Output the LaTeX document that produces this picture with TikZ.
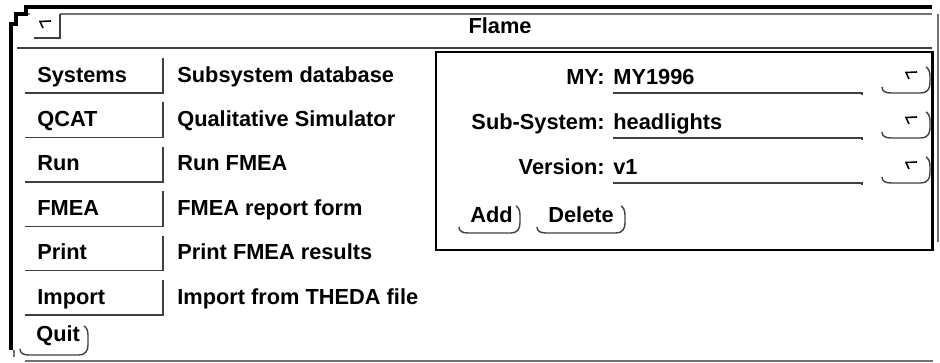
\documentclass[tikz,border=0pt]{standalone}
\usepackage{fontspec}
\setmainfont{Liberation Sans}
\usetikzlibrary{positioning}

\tikzset{
  guitext/.style={font=\fontsize{12.4}{14}\selectfont\bfseries, inner sep=0pt},
  thinline/.style={black!75, line width=0.8pt},
  frameline/.style={black, line width=1.7pt},
}
% rounded push button: x0, x1, y top, y bottom (pixel units, y down)
\newcommand{\rndbtn}[4]{%
  \draw[thinline] (#1,#4-6) .. controls (#1,#4-2) and (#1+3,#4) .. (#1+9,#4)
    -- (#2-9,#4) .. controls (#2-3,#4) and (#2,#4-4) .. (#2,#4-10)
    -- (#2,#3+9) .. controls (#2,#3+4) and (#2-2,#3+1) .. (#2-4,#3);}
% menu mark
\newcommand{\menumark}[2]{%
  \draw[black, line width=0.9pt] (#1+11,#2) -- (#1,#2+0.5) -- (#1+3,#2+7);}

\begin{document}
\begin{tikzpicture}[x=0.02cm, y=-0.02cm]
\useasboundingbox (0,0) rectangle (940,362);

% window frame
\draw[frameline, line width=2.4pt] (11,350) -- (11,24) -- (16,24) -- (16,14) -- (26,14) -- (26,7) -- (932,7);
\draw[thinline, black!55] (60,14) -- (932,14);
\draw[thinline, black!55] (938,14) -- (938,242);
\draw[thinline, black!55] (25,361) -- (933,361);
\draw[thinline, black!55] (14,350) -- (14,357);
\fill (29,14) circle (0.8);
\draw[thinline] (34,38) -- (60,38) -- (60,14);
\menumark{40}{21}
\draw[thinline] (17,48) -- (932,48);
\node[guitext, anchor=base] (title) at (500,33) {Flame};

% command buttons
\foreach \b/\d/\n [count=\i] in {Systems/Subsystem database/sys, QCAT/Qualitative Simulator/qcat,
    Run/Run FMEA/run, FMEA/FMEA report form/fmea, Print/Print FMEA results/print,
    Import/Import from THEDA file/imp} {
  \pgfmathsetmacro\yb{93+44.4*(\i-1)}
  \draw[thinline] (25,\yb) -- (163,\yb) -- (163,\yb-35);
  \node[guitext, anchor=base west] (btn-\n) at (37,\yb-11) {\b};
  \node[guitext, anchor=base west] (desc-\n) at (177,\yb-11) {\d};
}
\node[guitext, anchor=base west] (quit) at (36,341) {Quit};
\rndbtn{20}{88}{326}{355}

% selection panel
\draw[frameline] (436,52) rectangle (932,250);
\foreach \l/\v/\n [count=\i] in {MY:/MY1996/my, Sub-System:/headlights/sub, Version:/v1/ver} {
  \pgfmathsetmacro\yu{48+45*\i}
  \node[guitext, anchor=base east] (lbl-\n) at (605,\yu-9) {\l};
  \node[guitext, anchor=base west] (val-\n) at (613,\yu-9) {\v};
  \draw[thinline] (613,\yu) -- (862,\yu) -- (862,\yu+1.5);
  \rndbtn{882}{930}{\yu-26}{\yu}
  \menumark{906}{\yu-21}
}
\node[guitext, anchor=base west] (add) at (470,222) {Add};
\rndbtn{459}{520}{206}{233}
\node[guitext, anchor=base west] (del) at (548,222) {Delete};
\rndbtn{537}{625}{206}{233}
\end{tikzpicture}
\end{document}
